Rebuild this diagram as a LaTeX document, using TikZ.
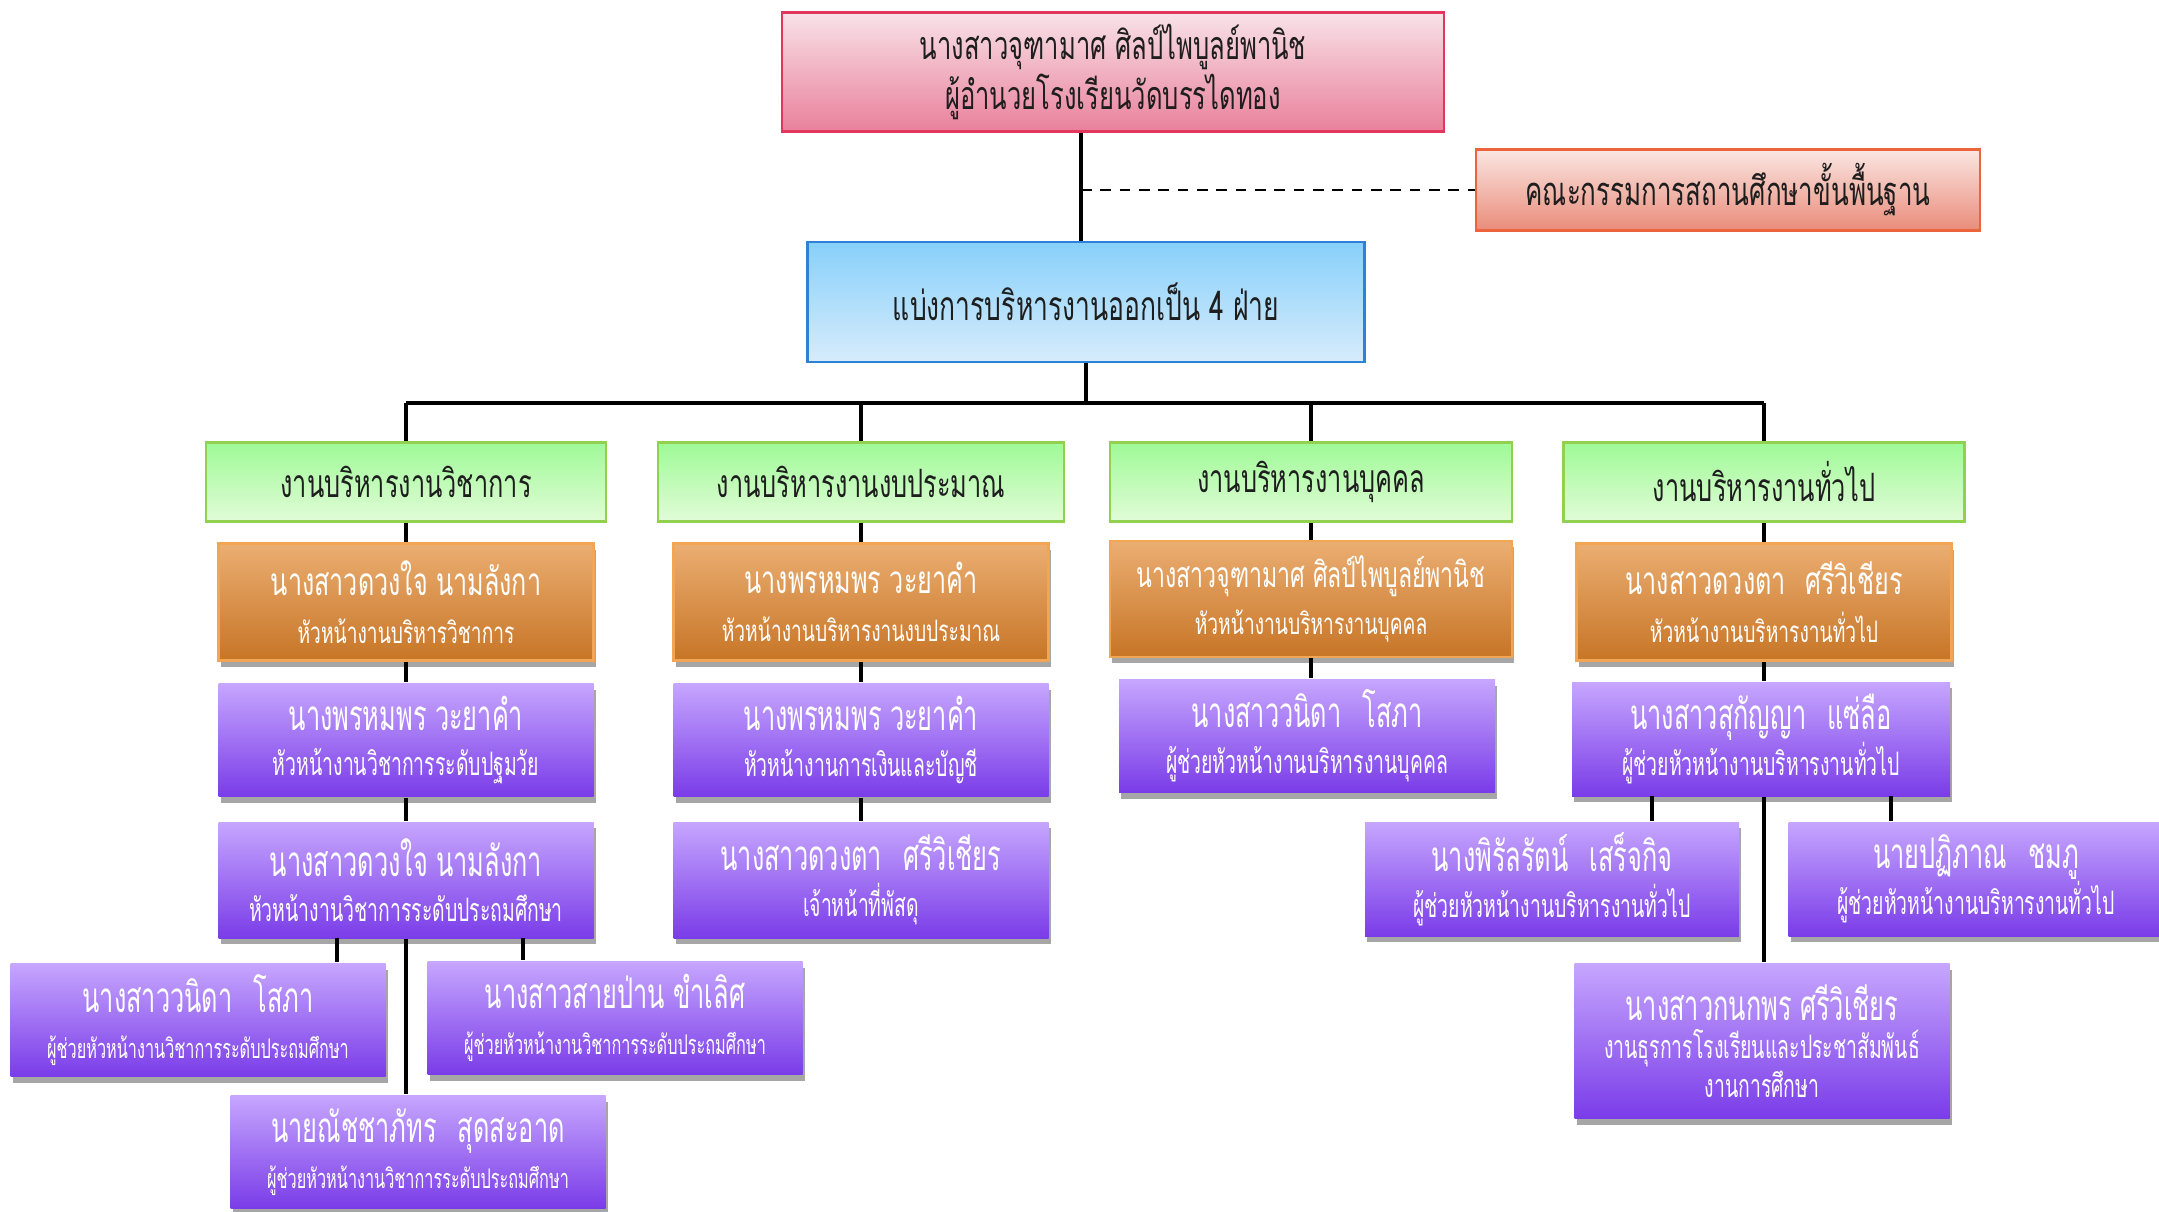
\documentclass[tikz,border=0pt]{standalone}
\usepackage{fontspec}
\setmainfont[Script=Thai,FakeStretch=0.65]{Loma}
\newfontfamily\thaiC[Script=Thai,FakeStretch=0.6]{Loma}
\usetikzlibrary{shadows,calc}
\definecolor{pinkT}{RGB}{248,226,232}
\definecolor{pinkB}{RGB}{233,128,155}
\definecolor{pinkD}{RGB}{225,55,95}
\definecolor{comT}{RGB}{250,230,226}
\definecolor{comB}{RGB}{233,140,122}
\definecolor{comD}{RGB}{235,100,60}
\definecolor{bluT}{RGB}{135,208,250}
\definecolor{bluB}{RGB}{215,236,252}
\definecolor{bluD}{RGB}{45,130,215}
\definecolor{grnT}{RGB}{158,250,150}
\definecolor{grnB}{RGB}{226,252,216}
\definecolor{grnD}{RGB}{146,208,80}
\definecolor{orgT}{RGB}{235,174,114}
\definecolor{orgB}{RGB}{199,117,38}
\definecolor{orgD}{RGB}{242,165,82}
\definecolor{purT}{RGB}{198,166,254}
\definecolor{purB}{RGB}{122,60,232}
\definecolor{txt}{RGB}{30,30,30}
\newcommand\subO[1]{{\fontsize{8.4pt}{9pt}\selectfont #1}}
\newcommand\subP[1]{{\fontsize{9.2pt}{11pt}\selectfont #1}}
\newcommand\subQ[1]{{\fontsize{7.7pt}{11pt}\selectfont #1}}
\begin{document}
\begin{tikzpicture}[x=0.01cm,y=-0.01cm,
  sz/.style 2 args={minimum width=#1*0.01cm, minimum height=#2*0.01cm},
  box/.style={rectangle, inner sep=0pt, align=center, line width=0.6pt},
  pinkbox/.style={box, draw=pinkD, line width=0.75pt, top color=pinkT, bottom color=pinkB, text=txt, font=\fontsize{11.2pt}{14.2pt}\selectfont},
  combox/.style={box, draw=comD, line width=0.75pt, top color=comT, bottom color=comB, text=txt, font=\fontsize{11.35pt}{14pt}\selectfont},
  bluebox/.style={box, draw=bluD, line width=0.75pt, top color=bluT, bottom color=bluB, text=txt, font=\fontsize{11.6pt}{13pt}\selectfont},
  grnbox/.style={box, draw=grnD, top color=grnT, bottom color=grnB, text=txt, font=\fontsize{11.1pt}{12pt}\selectfont},
  orgbox/.style={box, draw=orgD, top color=orgT, bottom color=orgB, text=white, font=\fontsize{11pt}{13.5pt}\selectfont,
     drop shadow={shadow xshift=0.6pt, shadow yshift=-1.8pt, fill=black, opacity=0.35}},
  purbox/.style={box, draw=none, top color=purT, bottom color=purB, text=white, font=\thaiC\fontsize{12pt}{13pt}\selectfont,
     drop shadow={shadow xshift=0.6pt, shadow yshift=-1.8pt, fill=black, opacity=0.35}},
  conn/.style={draw=black, line width=1.1pt},
  dconn/.style={draw=black, line width=0.8pt, dash pattern=on 3pt off 2.5pt}]
\useasboundingbox (0,0) rectangle (2159,1212);
\fill[white] (0,0) rectangle (2159,1212);

% helper coordinates for connector positions
\coordinate (bus) at (1086,403);
\coordinate (v0) at (1081,131);
\coordinate (c1a) at (337,938);
\coordinate (c1b) at (523,938);
\coordinate (c4a) at (1652,796);
\coordinate (c4b) at (1891,796);

% top level
\node[pinkbox, sz={662}{119}] (top) at (1113,72) {นางสาวจุฑามาศ ศิลป์ไพบูลย์พานิช\\ผู้อำนวยโรงเรียนวัดบรรไดทอง};
\node[combox, sz={504}{81}] (com) at (1728,190) {คณะกรรมการสถานศึกษาขั้นพื้นฐาน};
\node[bluebox, sz={557}{120}] (div) at (1086,302) {แบ่งการบริหารงานออกเป็น 4 ฝ่าย};

% green row
\node[grnbox, sz={400}{79}] (G1) at (406,482) {งานบริหารงานวิชาการ};
\node[grnbox, sz={406}{79}] (G2) at (861,482) {งานบริหารงานงบประมาณ};
\node[grnbox, sz={402}{79}] (G3) at (1311,482) {งานบริหารงานบุคคล};
\node[grnbox, sz={401}{79}] (G4) at (1764,482) {งานบริหารงานทั่วไป};

% orange row
\node[orgbox, sz={375}{117}] (O1) at (406,602) {นางสาวดวงใจ นามลังกา\\\subO{หัวหน้างานบริหารวิชาการ}};
\node[orgbox, sz={375}{117}] (O2) at (861,602) {นางพรหมพร วะยาคำ\\\subO{หัวหน้างานบริหารงานงบประมาณ}};
\node[orgbox, sz={402}{116}, font=\fontsize{10.1pt}{13.5pt}\selectfont] (O3) at (1311,599) {นางสาวจุฑามาศ ศิลป์ไพบูลย์พานิช\\\subO{หัวหน้างานบริหารงานบุคคล}};
\node[orgbox, sz={375}{117}] (O4) at (1764,602) {นางสาวดวงตา\enspace ศรีวิเชียร\\\subO{หัวหน้างานบริหารงานทั่วไป}};

% purple row 1
\node[purbox, sz={375}{113}] (P11) at (406,740) {นางพรหมพร วะยาคำ\\\subP{หัวหน้างานวิชาการระดับปฐมวัย}};
\node[purbox, sz={375}{113}] (P21) at (861,740) {นางพรหมพร วะยาคำ\\\subP{หัวหน้างานการเงินและบัญชี}};
\node[purbox, sz={376}{113}] (P31) at (1307,736) {นางสาววนิดา\enspace โสภา\\\subP{ผู้ช่วยหัวหน้างานบริหารงานบุคคล}};
\node[purbox, sz={378}{114}] (P41) at (1761,739) {นางสาวสุกัญญา\enspace แซ่ลือ\\\subP{ผู้ช่วยหัวหน้างานบริหารงานทั่วไป}};

% purple row 2
\node[purbox, sz={375}{116}] (P12) at (406,880) {นางสาวดวงใจ นามลังกา\\\subP{หัวหน้างานวิชาการระดับประถมศึกษา}};
\node[purbox, sz={375}{116}] (P22) at (861,880) {นางสาวดวงตา\enspace ศรีวิเชียร\\\subP{เจ้าหน้าที่พัสดุ}};
\node[purbox, sz={374}{114}] (P42a) at (1552,879) {นางพิรัลรัตน์\enspace เสร็จกิจ\\\subP{ผู้ช่วยหัวหน้างานบริหารงานทั่วไป}};
\node[purbox, sz={375}{114}] (P42b) at (1976,879) {นายปฏิภาณ\enspace ชมภู\\\subP{ผู้ช่วยหัวหน้างานบริหารงานทั่วไป}};

% row 3
\node[purbox, sz={375}{113}] (P13a) at (198,1020) {นางสาววนิดา\enspace โสภา\\\subQ{ผู้ช่วยหัวหน้างานวิชาการระดับประถมศึกษา}};
\node[purbox, sz={375}{113}] (P13b) at (615,1018) {นางสาวสายป่าน ขำเลิศ\\\subQ{ผู้ช่วยหัวหน้างานวิชาการระดับประถมศึกษา}};
\node[purbox, sz={375}{155}] (P43) at (1762,1041) {นางสาวกนกพร ศรีวิเชียร\\[-2pt]\subP{งานธุรการโรงเรียนและประชาสัมพันธ์}\\[-2pt]\subP{งานการศึกษา}};

% row 4
\node[purbox, sz={375}{113}] (P14) at (418,1152) {นายณัชชาภัทร\enspace สุดสะอาด\\\subQ{ผู้ช่วยหัวหน้างานวิชาการระดับประถมศึกษา}};

% connectors
\path[conn] (top.south -| v0) -- (div.north -| v0);
\path[dconn] (com.west -| v0) -- (com.west);
\path[conn] (div.south) -- (bus);
\path[conn] (bus -| G1.north) -- (bus -| G4.north);
\foreach \g in {G1,G2,G3,G4} { \path[conn] (bus -| \g.north) -- (\g.north); }
\path[conn] (G1.south) -- (O1.north);
\path[conn] (O1.south) -- (P11.north);
\path[conn] (P11.south) -- (P12.north);
\path[conn] (P12.south) -- (P12.south |- P14.north);
\path[conn] (c1a) -- (c1a |- P13a.north);
\path[conn] (c1b) -- (c1b |- P13b.north);
\path[conn] (G2.south) -- (O2.north);
\path[conn] (O2.south) -- (P21.north);
\path[conn] (P21.south) -- (P22.north);
\path[conn] (G3.south) -- (O3.north);
\path[conn] (O3.south) -- (O3.south |- P31.north);
\path[conn] (G4.south) -- (O4.north);
\path[conn] (O4.south) -- (P41.north -| O4.south);
\path[conn] (P41.south -| O4.south) -- (P43.north -| O4.south);
\path[conn] (c4a) -- (c4a |- P42a.north);
\path[conn] (c4b) -- (c4b |- P42b.north);
\end{tikzpicture}
\end{document}
